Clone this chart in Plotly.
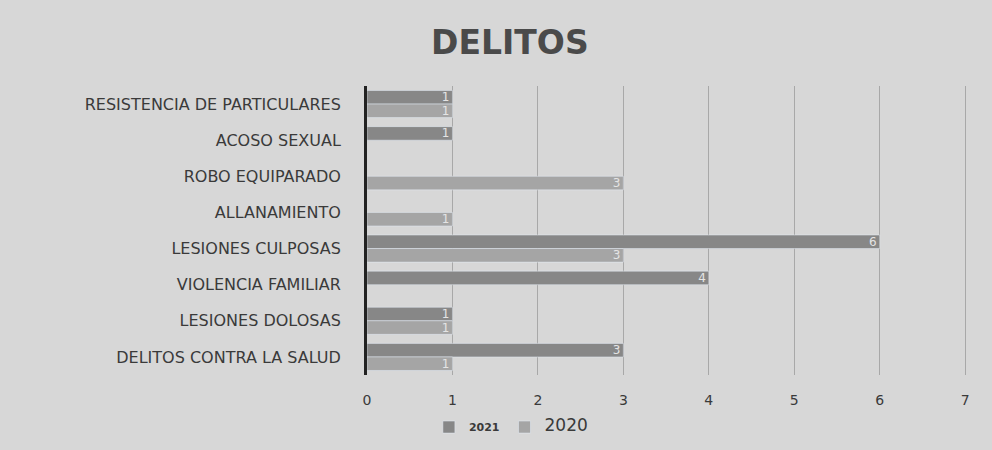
import plotly.graph_objects as go

categories = ["RESISTENCIA DE PARTICULARES", "ACOSO SEXUAL", "ROBO EQUIPARADO",
              "ALLANAMIENTO", "LESIONES CULPOSAS", "VIOLENCIA FAMILIAR",
              "LESIONES DOLOSAS", "DELITOS CONTRA LA SALUD"]
values_2021 = [1, 1, None, None, 6, 4, 1, 3]
values_2020 = [1, None, 3, 1, 3, None, 1, 1]
x_ticks = [0, 1, 2, 3, 4, 5, 6, 7]

label_font = dict(color="#e4e4e4", size=12, family="DejaVu Sans")

fig = go.Figure()
fig.add_trace(go.Bar(
    y=categories, x=values_2021, orientation="h", name="<b>2021</b>",
    marker=dict(color="#878787"),
    text=values_2021, textposition="inside", insidetextanchor="end", textangle=0,
    constraintext="none", textfont=label_font,
))
fig.add_trace(go.Bar(
    y=categories, x=values_2020, orientation="h",
    name="<span style='font-size:17px'>2020</span>",
    marker=dict(color="#a5a5a5"),
    text=values_2020, textposition="inside", insidetextanchor="end", textangle=0,
    constraintext="none", textfont=label_font,
))

fig.update_layout(
    width=992, height=450,
    paper_bgcolor="#d7d7d7", plot_bgcolor="#d7d7d7",
    margin=dict(l=367, r=20, t=86, b=75, autoexpand=False),
    barmode="group", bargap=0.25, bargroupgap=0.0,
    title=dict(text="<b>DELITOS</b>", x=0.514, xanchor="center", y=0.905, yanchor="middle",
               font=dict(family="DejaVu Sans", size=33, color="#4a4a4a")),
    font=dict(family="DejaVu Sans", color="#3a3a3a"),
    legend=dict(orientation="h", xref="container", x=0.515, xanchor="center",
                yref="container", y=0.051, yanchor="middle",
                font=dict(size=11, color="#3a3a3a"), bgcolor="rgba(0,0,0,0)",
                itemwidth=30),
    xaxis=dict(range=[0, 7.08], tickvals=x_ticks, showgrid=True, gridcolor="#a8a8a8",
               gridwidth=1, zeroline=False, showline=False, automargin=False,
               tickfont=dict(size=14, color="#3a3a3a"), ticks="", ticklabelstandoff=15),
    yaxis=dict(autorange="reversed", showline=True, linecolor="#222222", linewidth=3,
               showgrid=False, ticks="", ticklabelstandoff=20, automargin=False,
               tickfont=dict(size=16, color="#3a3a3a")),
    showlegend=True,
)

fig.write_html("out.html", config={"displayModeBar": False},
               post_script="document.body.style.margin='0';")
